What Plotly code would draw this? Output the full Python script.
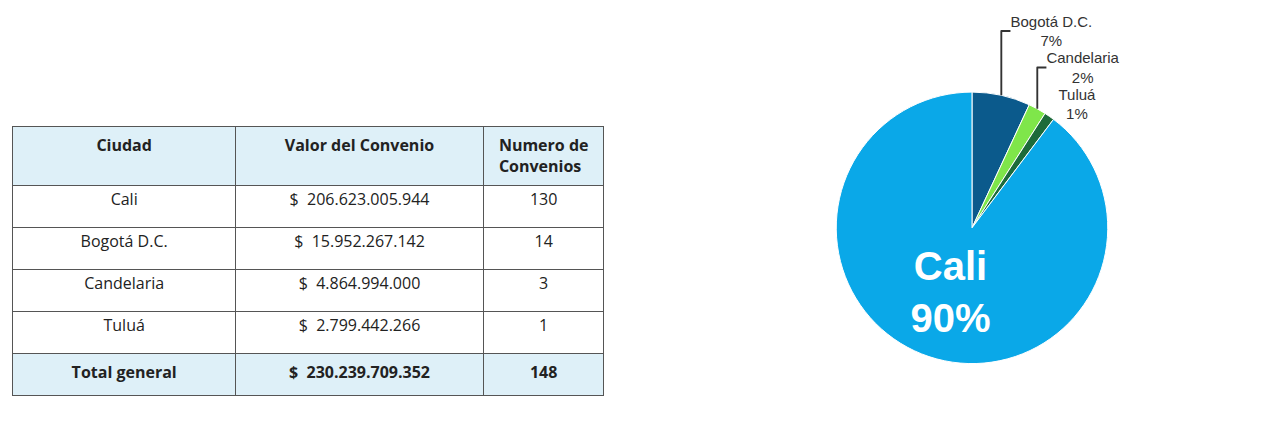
import plotly.graph_objects as go

ciudades = ["Cali", "Bogotá D.C.", "Candelaria", "Tuluá", "Total general"]
valores = ["206.623.005.944", "15.952.267.142", "4.864.994.000", "2.799.442.266", "230.239.709.352"]
convenios = ["130", "14", "3", "1", "148"]
pie_labels = ["Bogotá D.C.", "Candelaria", "Tuluá", "Cali"]
pie_values = [15952267142, 4864994000, 2799442266, 206623005944]
pie_colors = ["#0b5a8c", "#7fe64a", "#1d6b3a", "#0aa8e8"]

def bold_last(lst):
    return lst[:-1] + ["<b>" + lst[-1] + "</b>"]

val_txt = ["$  " + v for v in valores]

fig = go.Figure()
fig.add_trace(go.Table(
    domain=dict(x=[0.004, 0.495], y=[0.0, 0.855]),
    columnwidth=[237, 264, 128],
    header=dict(values=["<b>Ciudad</b>", "<b>Valor del Convenio</b>", "<b>Numero de<br>Convenios</b>"],
                fill_color="#def0f8", line_color="#555", align="center", height=54,
                font=dict(family="Open Sans", size=16, color="#222")),
    cells=dict(values=[bold_last(ciudades), bold_last(val_txt), bold_last(convenios)],
               fill_color=[["white"] * 4 + ["#def0f8"]] * 3, line_color="#555", align="center", height=42,
               font=dict(family="Open Sans", size=16, color="#222")),
))
fig.add_trace(go.Pie(
    labels=pie_labels, values=pie_values, sort=False, direction="clockwise", rotation=0,
    marker=dict(colors=pie_colors, line=dict(color="white", width=1)),
    domain=dict(x=[0.62, 0.98], y=[0.2, 0.95]),
    texttemplate=["%{label}<br>%{percent:.0%}"] * 3 + ["<b>%{label}<br>%{percent:.0%}</b>"],
    textposition=["outside", "outside", "outside", "inside"],
    insidetextfont=dict(family="Arial", size=40, color="white"),
    outsidetextfont=dict(family="Arial", size=15, color="#333"),
    showlegend=False, hoverinfo="label+percent",
))
fig.update_layout(width=1280, height=428, margin=dict(l=0, r=0, t=0, b=0),
                  paper_bgcolor="white", plot_bgcolor="white")
fig.write_html("out.html")
